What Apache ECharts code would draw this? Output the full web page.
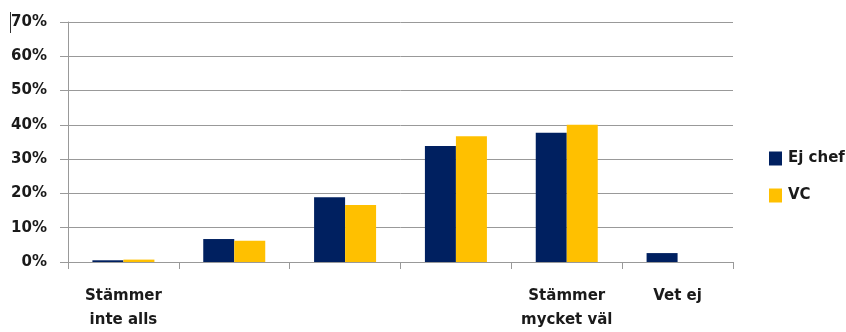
<!DOCTYPE html>
<html><head><meta charset="utf-8">
<script src="https://cdn.jsdelivr.net/npm/echarts@6/dist/echarts.min.js"></script>
<style>html,body{margin:0;padding:0;background:#fff}#c{width:846px;height:332px}</style>
</head><body><div id="c"></div>
<script>
const categories = ["Stämmer\ninte alls", "", "", "", "Stämmer\nmycket väl", "Vet ej"];
const ejChef = [0.5, 6.7, 18.9, 33.8, 37.7, 2.6];
const vc = [0.7, 6.2, 16.6, 36.7, 40.0, 0];
const seriesNames = ["Ej chef", "VC"];
const font = "'DejaVu Sans', sans-serif";
const chart = echarts.init(document.getElementById('c'), null, {renderer: 'canvas'});
chart.setOption({
  animation: false,
  grid: {left: 68, right: 113, top: 22, bottom: 70, containLabel: false, outerBoundsMode: 'none'},
  legend: {
    orient: 'vertical', left: 764, top: 146, itemGap: 22,
    itemWidth: 13, itemHeight: 14, icon: 'rect',
    textStyle: {fontFamily: font, fontWeight: 'bold', fontSize: 15, color: '#1a1a1a', padding: [0, 0, 0, 1]},
    data: seriesNames
  },
  xAxis: {
    type: 'category', data: categories,
    axisLine: {lineStyle: {color: '#999999', width: 1}},
    axisTick: {show: true, length: 7, lineStyle: {color: '#999999'}},
    axisLabel: {interval: 0, margin: 22, lineHeight: 24, fontFamily: font, fontWeight: 'bold', fontSize: 15, color: '#1a1a1a'}
  },
  yAxis: {
    type: 'value', min: 0, max: 70, interval: 10,
    axisLine: {show: true, lineStyle: {color: '#999999'}},
    axisTick: {show: true, length: 8, lineStyle: {color: '#999999'}},
    splitLine: {lineStyle: {color: '#999999', width: 1}},
    axisLabel: {formatter: '{value}%', margin: 21, fontFamily: font, fontWeight: 'bold', fontSize: 15, color: '#1a1a1a'}
  },
  graphic: [{type: 'line', shape: {x1: 10.5, y1: 12, x2: 10.5, y2: 33}, style: {stroke: '#333', lineWidth: 1}}],
  series: [
    {name: seriesNames[0], type: 'bar', data: ejChef, barWidth: 31, barGap: '0%', itemStyle: {color: '#002060'}},
    {name: seriesNames[1], type: 'bar', data: vc, barWidth: 31, barGap: '0%', itemStyle: {color: '#FFC000'}}
  ]
});
</script></body></html>
